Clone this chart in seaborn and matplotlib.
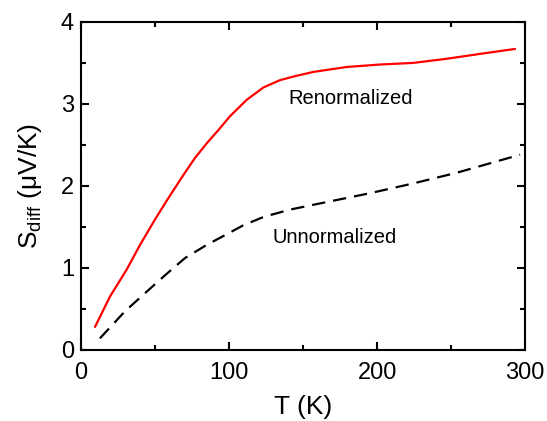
import matplotlib
matplotlib.use("Agg")
import matplotlib.pyplot as plt
import seaborn as sns
import pandas as pd
from matplotlib.ticker import MultipleLocator

# Data
T_renorm = [9.5, 19.6, 30.9, 39.9, 50, 59, 69.1, 77, 85, 92.8, 100.7, 112, 123.2, 134.5, 145,
            157, 179.5, 202, 224.5, 247, 269.6, 293.2]
S_renorm = [0.28, 0.65, 0.98, 1.28, 1.59, 1.85, 2.13, 2.34, 2.52, 2.68, 2.85, 3.05, 3.20, 3.29,
            3.34, 3.39, 3.45, 3.48, 3.50, 3.55, 3.61, 3.67]
T_unnorm = [12.8, 29.7, 43.2, 56.8, 70.3, 84.9, 99.5, 109.7, 123.2, 141, 168, 195, 224.5,
            253.8, 283, 296.6]
S_unnorm = [0.14, 0.47, 0.69, 0.91, 1.12, 1.28, 1.42, 1.52, 1.62, 1.71, 1.81, 1.91, 2.03,
            2.16, 2.31, 2.38]

sns.set_style("ticks")
plt.rcParams['font.family'] = ['Liberation Sans', 'DejaVu Sans']
plt.rcParams['mathtext.fontset'] = 'custom'
plt.rcParams['mathtext.rm'] = 'Liberation Sans'
plt.rcParams['mathtext.it'] = 'Liberation Sans:italic'
plt.rcParams['text.color'] = 'black'
plt.rcParams['axes.labelcolor'] = 'black'
plt.rcParams['xtick.color'] = 'black'
plt.rcParams['ytick.color'] = 'black'
plt.rcParams['axes.edgecolor'] = 'black'

df = pd.concat([
    pd.DataFrame({'T': T_renorm, 'S': S_renorm, 'kind': 'Renormalized'}),
    pd.DataFrame({'T': T_unnorm, 'S': S_unnorm, 'kind': 'Unnormalized'}),
])

fig = plt.figure(figsize=(5.47, 4.21), dpi=100)
ax = fig.add_axes([0.148, 0.169, 0.812, 0.779])

sns.lineplot(data=df, x='T', y='S', hue='kind', style='kind',
             palette={'Renormalized': '#ff0000', 'Unnormalized': 'black'},
             dashes={'Renormalized': '', 'Unnormalized': (6, 3.6)},
             linewidth=1.6, legend=False, sort=False, estimator=None, ax=ax)
for ln in ax.get_lines():
    ln.set_solid_joinstyle('round')

ax.set_xlim(0, 300)
ax.set_ylim(0, 4)
ax.xaxis.set_major_locator(MultipleLocator(100))
ax.xaxis.set_minor_locator(MultipleLocator(50))
ax.yaxis.set_major_locator(MultipleLocator(1))
ax.yaxis.set_minor_locator(MultipleLocator(0.5))
ax.tick_params(which='both', direction='in', top=True, right=True, width=1.5, labelsize=17)
ax.tick_params(axis='x', which='major', pad=9)
ax.tick_params(axis='y', which='major', pad=5)
ax.tick_params(which='major', length=6)
ax.tick_params(which='minor', length=3.5)
for s in ax.spines.values():
    s.set_linewidth(1.5)
    s.set_visible(True)

ax.set_xlabel('T (K)', fontsize=19, labelpad=8)
ax.set_ylabel(r'S$_{\rm diff}$ (μV/K)', fontsize=19, labelpad=12)

ax.text(182, 3.06, 'Renormalized', fontsize=14.5, ha='center', va='center')
ax.text(171, 1.37, 'Unnormalized', fontsize=14.5, ha='center', va='center')

fig.savefig('out.png', dpi=100)
